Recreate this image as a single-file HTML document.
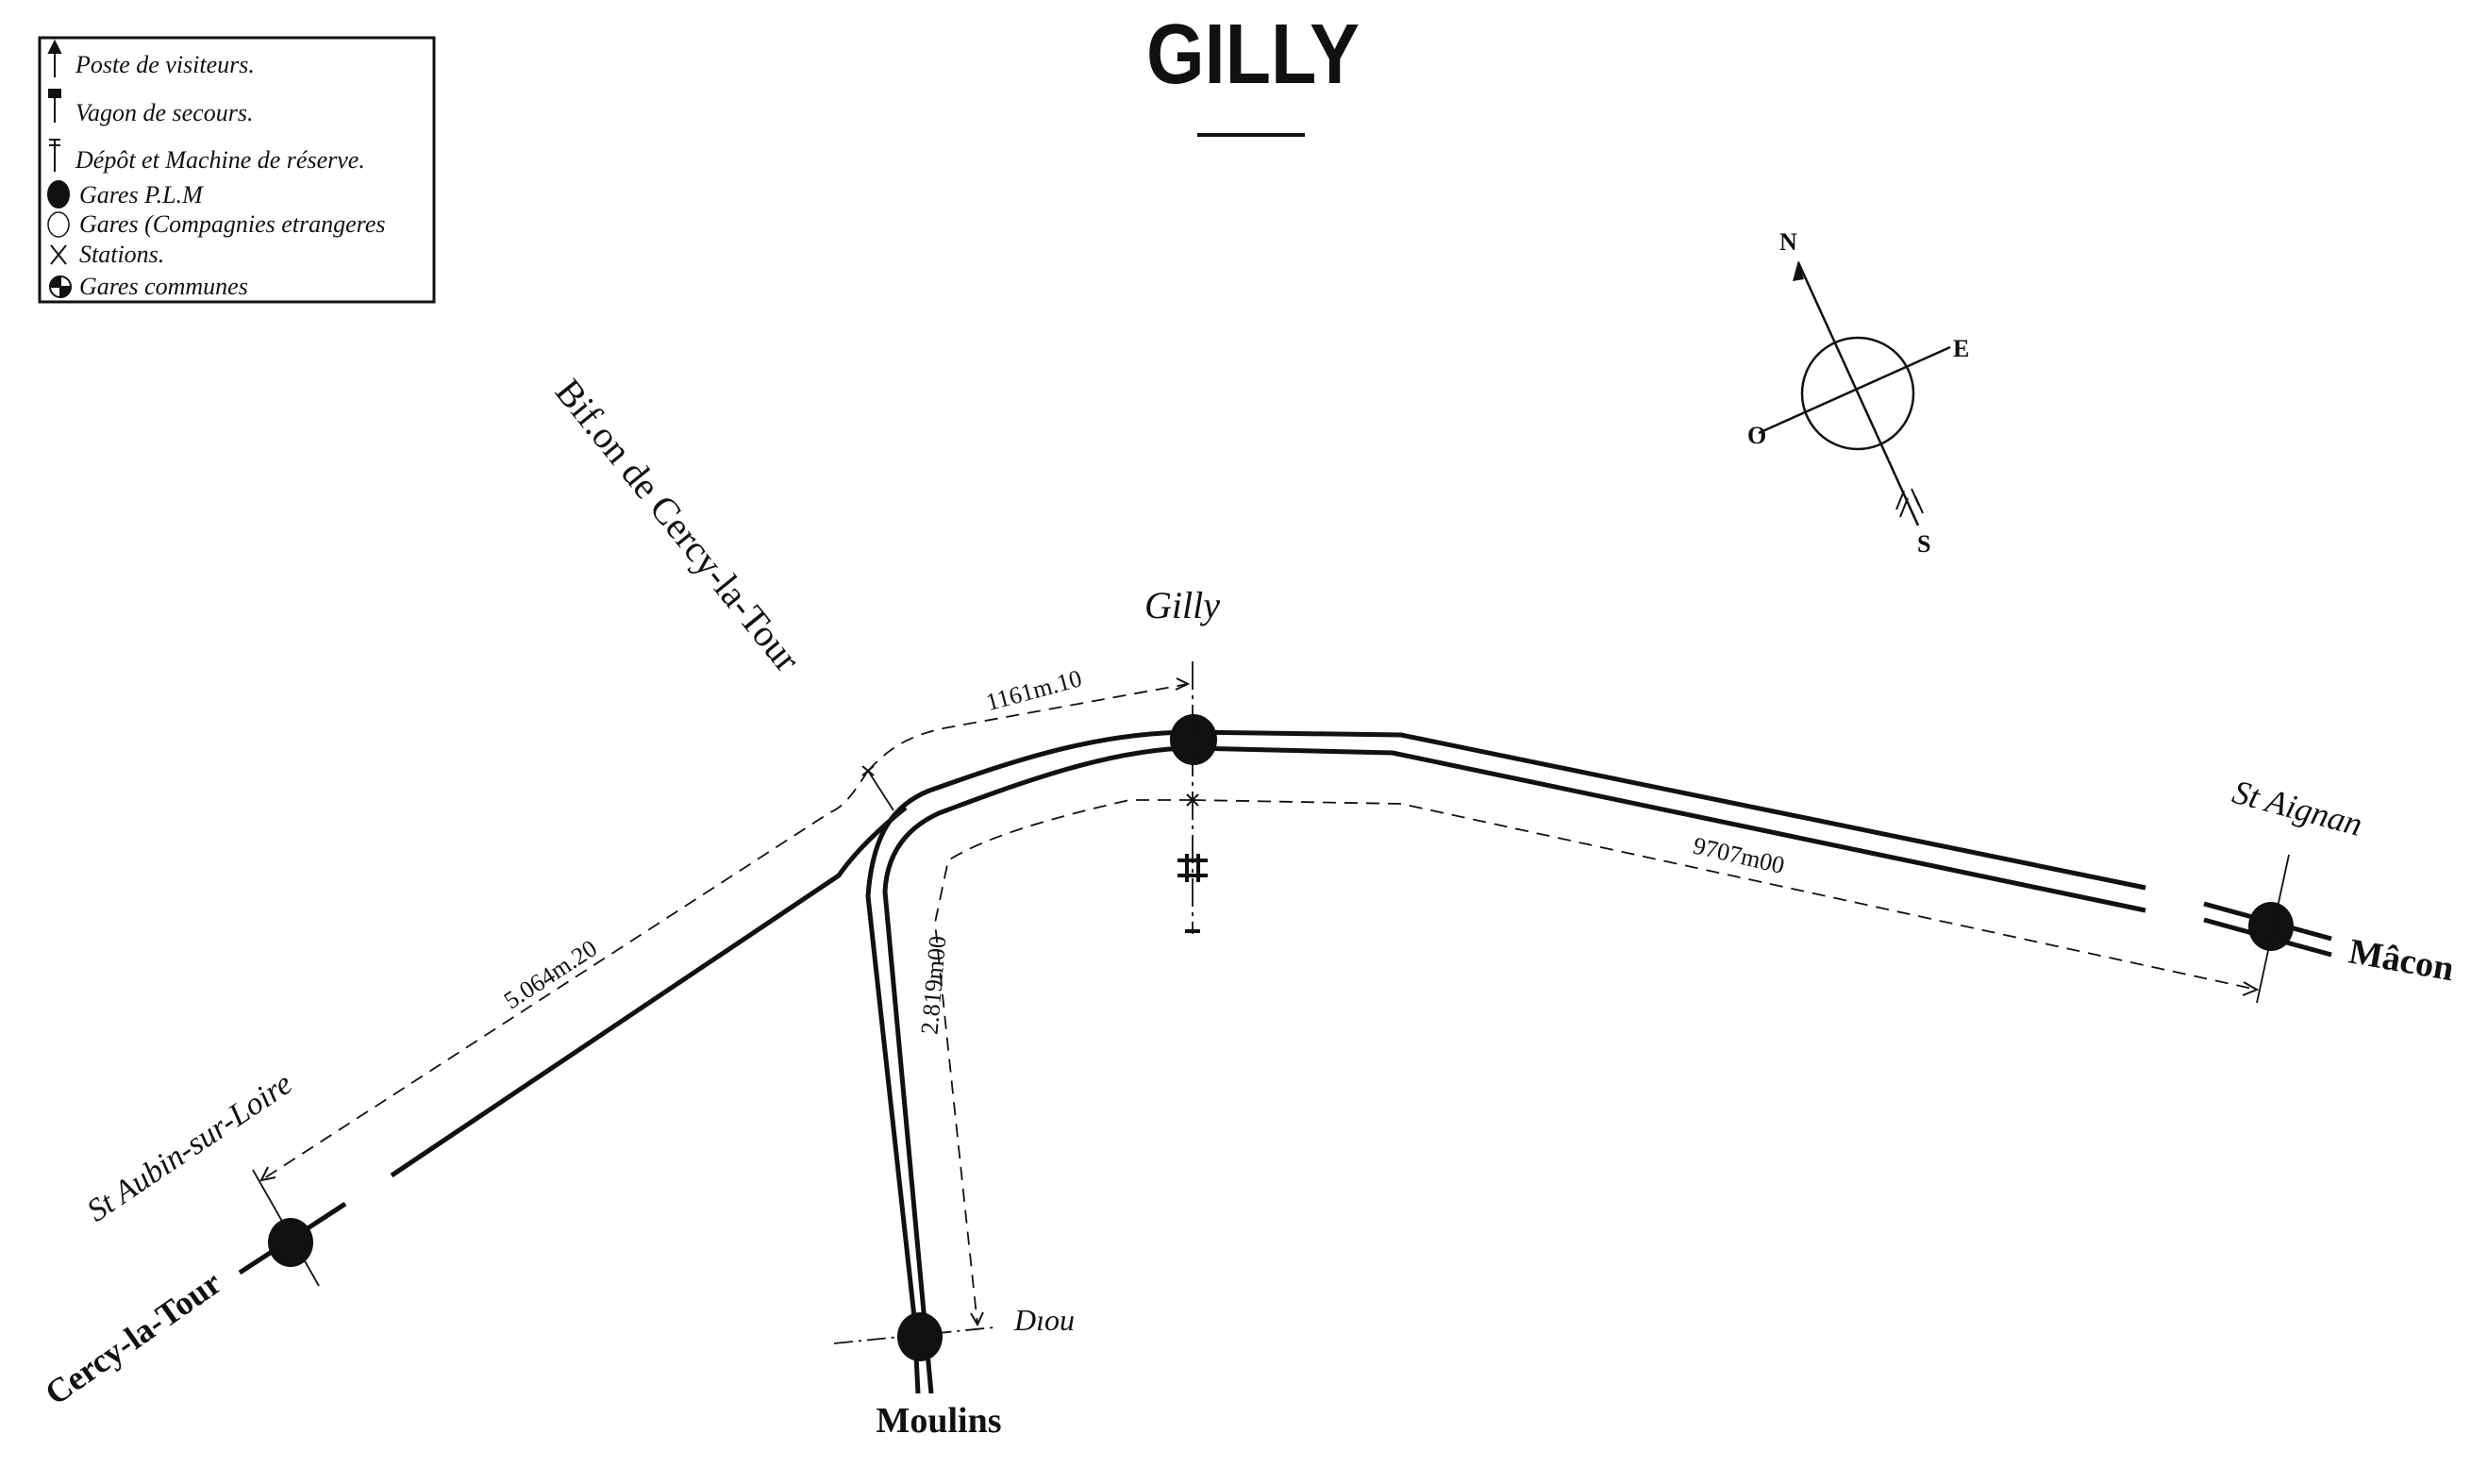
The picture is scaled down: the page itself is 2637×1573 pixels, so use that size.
<!DOCTYPE html>
<html><head><meta charset="utf-8"><style>
html,body{margin:0;padding:0;background:#fff}
svg{display:block}
text{font-family:"Liberation Serif",serif;fill:#111}
.it{font-style:italic}
.b{font-weight:bold}
</style></head><body>
<svg width="2637" height="1573" viewBox="0 0 2637 1573" xmlns="http://www.w3.org/2000/svg">
<!-- Legend -->
<rect x="42" y="40" width="418" height="280" fill="none" stroke="#111" stroke-width="3"/>
<g stroke="#111" stroke-width="2" fill="#111">
<line x1="58" y1="50" x2="58" y2="82"/><polygon points="52,56 64,56 58,44"/>
<rect x="52" y="95" width="12" height="8"/><line x1="58" y1="103" x2="58" y2="130"/>
<line x1="52" y1="148" x2="64" y2="148"/><line x1="52" y1="154" x2="64" y2="154"/><line x1="58" y1="148" x2="58" y2="182"/>
<ellipse cx="62" cy="206" rx="11" ry="14"/>
<ellipse cx="62" cy="238" rx="11" ry="13" fill="none" stroke-width="1.5"/>
<line x1="54" y1="260" x2="70" y2="280"/><line x1="70" y1="260" x2="54" y2="280"/>
<circle cx="64" cy="304" r="11" fill="#fff"/>
<path d="M64 304 L64 293 A11 11 0 0 0 53 304 Z"/><path d="M64 304 L75 304 A11 11 0 0 1 64 315 Z"/>
</g>
<g font-size="26">
<text x="80" y="77" class="it">Poste de visiteurs.</text>
<text x="80" y="128" class="it">Vagon de secours.</text>
<text x="80" y="178" class="it" fill="#444">Dépôt et Machine de réserve.</text>
<text x="84" y="215" class="it">Gares P.L.M</text>
<text x="84" y="246" class="it">Gares (Compagnies etrangeres</text>
<text x="84" y="278" class="it">Stations.</text>
<text x="84" y="312" class="it">Gares communes</text>
</g>
<!-- Title -->
<text x="1328" y="88" text-anchor="middle" font-size="90" style="font-family:'Liberation Sans',sans-serif" font-weight="bold" transform="translate(1328,88) scale(0.88,1) translate(-1328,-88)">GILLY</text>
<line x1="1269" y1="143" x2="1383" y2="143" stroke="#111" stroke-width="4"/>
<!-- Compass -->
<g stroke="#111" stroke-width="2.5" fill="none">
<circle cx="1969" cy="417" r="59"/>
<line x1="1906" y1="278" x2="2033" y2="557"/>
<line x1="1864" y1="459" x2="2067" y2="368"/>
</g>
<polygon points="1906,276 1900,298 1912,296" fill="#111"/>
<g stroke="#111" stroke-width="2"><line x1="2018" y1="520" x2="2010" y2="540"/><line x1="2022" y1="528" x2="2014" y2="548"/><line x1="2026" y1="518" x2="2034" y2="536"/><line x1="2030" y1="526" x2="2038" y2="544"/></g>
<g font-weight="bold" font-size="26" style="font-family:'Liberation Sans',sans-serif">
<text x="1886" y="265">N</text><text x="2070" y="378">E</text><text x="1852" y="470">O</text><text x="2032" y="585">S</text>
</g>
<!-- Tracks -->
<g stroke="#111" stroke-width="5" fill="none" stroke-linecap="butt">
<path d="M1265 776 L1485 779 L2274 941"/>
<path d="M1265 793 L1476 798 L2274 965"/>
<path d="M1265 776 C1160 776 1070 808 985 838 C950 852 925 880 920 950 L969 1396 L973 1477"/>
<path d="M1265 793 C1180 793 1080 830 995 862 C960 878 940 905 938 945 L987 1477"/>
<path d="M960 856 C930 880 905 905 889 928 L415 1246"/>
<line x1="2336" y1="958" x2="2471" y2="995"/>
<line x1="2336" y1="975" x2="2471" y2="1012"/>
<line x1="366" y1="1276" x2="254" y2="1349"/>
</g>
<!-- Stations -->
<g fill="#111">
<ellipse cx="1265" cy="784" rx="25" ry="27"/>
<ellipse cx="2407" cy="982" rx="24" ry="26"/>
<ellipse cx="308" cy="1317" rx="24" ry="26"/>
<ellipse cx="975" cy="1417" rx="24" ry="26"/>
</g>
<!-- thin lines -->
<g stroke="#111" stroke-width="1.8" fill="none">
<line x1="1264" y1="701" x2="1264" y2="990" stroke-dasharray="30 6 4 6"/>
<line x1="2426" y1="906" x2="2392" y2="1063"/>
<line x1="268" y1="1240" x2="338" y2="1363"/>
<line x1="884" y1="1424" x2="1054" y2="1407" stroke-dasharray="20 6 3 6"/>
<line x1="920" y1="817" x2="947" y2="859"/>
</g>
<!-- H symbol -->
<g stroke="#111" stroke-width="4"><line x1="1248" y1="912" x2="1280" y2="912"/><line x1="1248" y1="928" x2="1280" y2="928"/><line x1="1258" y1="905" x2="1258" y2="935"/><line x1="1270" y1="905" x2="1270" y2="935"/><line x1="1256" y1="987" x2="1272" y2="987"/></g>
<!-- dashed dimension lines -->
<g stroke="#111" stroke-width="1.8" fill="none" stroke-dasharray="14 9">
<path d="M920 817 C945 790 965 780 1000 772 L1259 725"/>
<path d="M920 817 C905 840 895 855 880 861 L277 1251"/>
<path d="M1264 848 L1197 848 C1100 870 1040 890 1005 912 L991 978 L1005 1112 L1036 1404"/>
<path d="M1264 848 L1485 852 L2392 1049"/>
</g>
<g stroke="#111" stroke-width="2" fill="none">
<path d="M1247 719 L1259 725 L1246 731"/>
<path d="M292 1248 L277 1251 L284 1237"/>
<path d="M1029 1392 L1036 1404 L1042 1391"/>
<path d="M2378 1041 L2392 1049 L2377 1055"/>
<path d="M914 812 L926 822 M926 812 L914 822"/>
<path d="M1258 842 L1270 854 M1270 842 L1258 854"/>
</g>
<!-- labels -->
<text x="1253" y="655" class="it" font-size="40" text-anchor="middle">Gilly</text>
<text x="0" y="0" font-size="40" text-anchor="middle" transform="translate(708,565) rotate(51)">Bif.on de Cercy-la-Tour</text>
<text x="0" y="0" class="it" font-size="34" text-anchor="middle" transform="translate(207,1225) rotate(-34)">St Aubin-sur-Loire</text>
<text x="0" y="0" class="b" font-size="36" text-anchor="middle" transform="translate(148,1428) rotate(-35)">Cercy-la-Tour</text>
<text x="995" y="1518" class="b" font-size="38" text-anchor="middle">Moulins</text>
<text x="1075" y="1410" class="it" font-size="32">Dıou</text>
<text x="0" y="0" class="b" font-size="38" transform="translate(2488,1020) rotate(10)">Mâcon</text>
<text x="0" y="0" class="it" font-size="36" text-anchor="middle" fill="#333" transform="translate(2432,868) rotate(15)">St Aignan</text>
<text x="0" y="0" font-size="26" text-anchor="middle" transform="translate(1098,740) rotate(-15)">1161m.10</text>
<text x="0" y="0" font-size="26" text-anchor="middle" transform="translate(588,1040) rotate(-33)">5.064m.20</text>
<text x="0" y="0" font-size="26" text-anchor="middle" transform="translate(998,1045) rotate(-85)">2.819m00</text>
<text x="0" y="0" font-size="26" text-anchor="middle" transform="translate(1841,915) rotate(13)">9707m00</text>
</svg>
</body></html>
